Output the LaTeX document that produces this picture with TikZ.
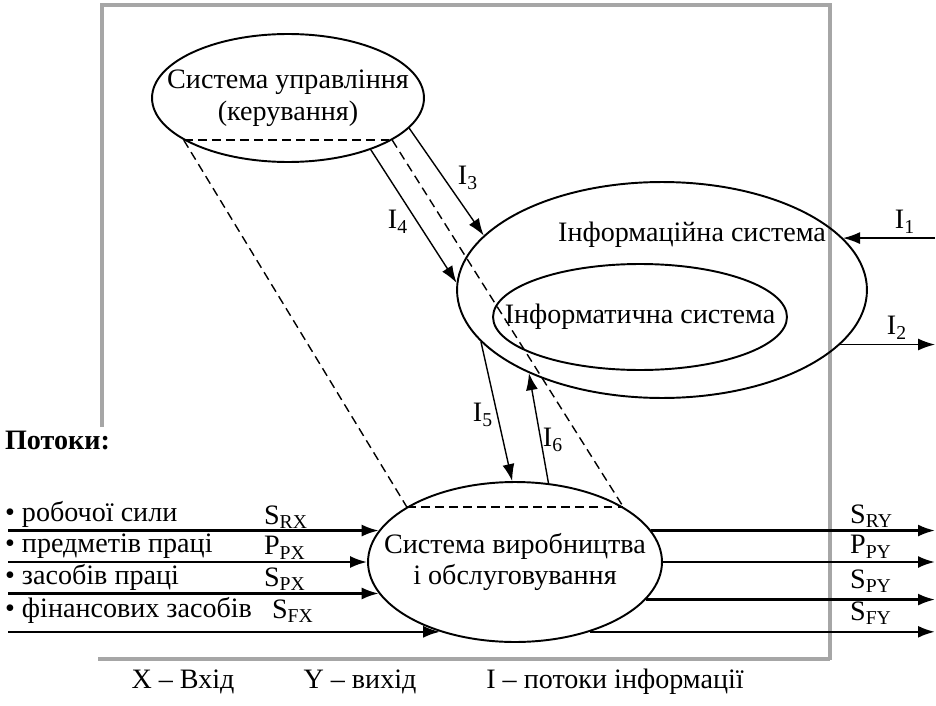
\documentclass[tikz,border=0pt]{standalone}
\usepackage{fontspec}
\setmainfont{Liberation Serif}
\usetikzlibrary{shapes.geometric, arrows.meta, positioning}

\begin{document}
\begin{tikzpicture}[
    x=0.02cm, y=-0.02cm,
    every node/.style={font=\fontsize{16}{18}\selectfont},
    sys/.style={draw, ellipse, line width=1.1pt, inner sep=0pt},
    sys_text/.style={align=center, inner sep=1pt},
    flow/.style={-{Latex[length=3.4mm,width=2.4mm]}, line width=1.3pt},
    info_arrow/.style={-{Latex[length=3.4mm,width=2.4mm]}, line width=0.8pt},
    proj/.style={line width=0.8pt, dash pattern=on 5pt off 3pt},
    frame/.style={draw=gray!70, line width=2.4pt},
    flow_label/.style={anchor=west, inner sep=1pt}
]
\useasboundingbox (0,0) rectangle (936,706);

% Frame of the enterprise
\draw[frame] (102,427) -- (102,5) -- (830,5) -- (830,660);
\draw[frame] (98,659) -- (830,659);

% Systems
\node[sys, minimum width=5.44cm, minimum height=2.56cm] (ctrl) at (288,98) {};
\node[sys_text] (ctrl_text) at (ctrl) {Система управління\\(керування)};

\node[sys, minimum width=8.2cm, minimum height=4.32cm] (info) at (662,290) {};
\node[sys_text] (info_text) at (692,235) {Інформаційна система};

\node[sys, minimum width=5.88cm, minimum height=2.12cm] (infsys) at (640,317) {};
\node[sys_text] (infsys_text) at (infsys) {Інформатична система};

\node[sys, minimum width=5.88cm, minimum height=3.2cm] (prod) at (515,562) {};
\node[sys_text] (prod_text) at (prod) {Система виробництва\\і обслуговування};

% Ends of the flows
\coordinate (flowL) at (8,0);
\coordinate (flowR) at (935,0);

% Projection of control onto production
\draw[proj] (ctrl.202) -- (ctrl.338);
\draw[proj] (prod.153) -- (prod.27);
\draw[proj] (ctrl.202) -- (prod.153);
\draw[proj] (ctrl.338) -- (prod.27);

% Information flows
\draw[info_arrow] (ctrl.-14) -- (info.163);
\draw[info_arrow] (ctrl.-32) -- (info.178);
\draw[info_arrow] (info.196) -- (prod.92);
\draw[info_arrow] (prod.67) -- (info.212);
\draw[info_arrow] (info.16 -| flowR) -- (info.16);
\draw[info_arrow] (info.-17) -- (info.-17 -| flowR);

\node (i3) at (468,178) {I\textsubscript{3}};
\node (i4) at (398,222) {I\textsubscript{4}};
\node (i5) at (483,415) {I\textsubscript{5}};
\node (i6) at (553,440) {I\textsubscript{6}};
\node (i1) at (905,222) {I\textsubscript{1}};
\node (i2) at (897,328) {I\textsubscript{2}};

% Input flows
\node[flow_label, font=\fontsize{16}{18}\selectfont\bfseries] (flows) at (3,440) {Потоки:};

\draw[flow] (prod.167 -| flowL) -- (prod.167);
\draw[flow] (prod.180 -| flowL) -- (prod.180);
\draw[flow] (prod.193 -| flowL) -- (prod.193);
\draw[flow] (prod.223 -| flowL) -- (prod.223);

\node[flow_label] (in_work) at (3,514) {• робочої сили};
\node[flow_label] (in_obj) at (3,546) {• предметів праці};
\node[flow_label] (in_means) at (3,577) {• засобів праці};
\node[flow_label] (in_fin) at (3,610) {• фінансових засобів};

\node[flow_label] (s_rx) at (262,517) {S\textsubscript{RX}};
\node[flow_label] (p_px) at (262,548) {P\textsubscript{PX}};
\node[flow_label] (s_px) at (262,579) {S\textsubscript{PX}};
\node[flow_label] (s_fx) at (270,611) {S\textsubscript{FX}};

% Output flows
\draw[flow] (prod.13) -- (prod.13 -| flowR);
\draw[flow] (prod.0) -- (prod.0 -| flowR);
\draw[flow] (prod.344) -- (prod.344 -| flowR);
\draw[flow] (prod.317) -- (prod.317 -| flowR);

\node[flow_label] (s_ry) at (848,516) {S\textsubscript{RY}};
\node[flow_label] (p_py) at (848,547) {P\textsubscript{PY}};
\node[flow_label] (s_py) at (848,581) {S\textsubscript{PY}};
\node[flow_label] (s_fy) at (848,613) {S\textsubscript{FY}};

% Legend
\node (leg_x) at (183,682) {X – Вхід};
\node (leg_y) at (360,682) {Y – вихід};
\node (leg_i) at (615,682) {I – потоки інформації};

\end{tikzpicture}
\end{document}
